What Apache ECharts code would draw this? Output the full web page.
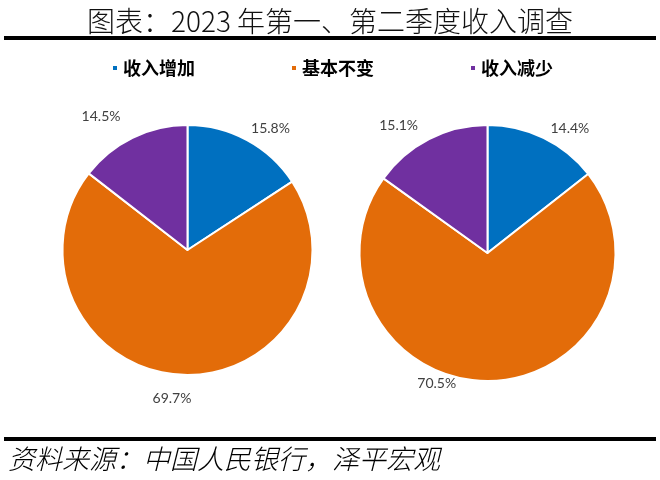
<!DOCTYPE html>
<html>
<head>
<meta charset="utf-8">
<script src="https://cdn.jsdelivr.net/npm/echarts@6/dist/echarts.min.js"></script>
<style>html,body{margin:0;padding:0;background:#fff}#c{width:660px;height:480px}</style>
</head>
<body>
<div id="c"></div>
<script>
const categories = ['收入增加', '基本不变', '收入减少'];
const q1Values = [15.8, 69.7, 14.5];
const q2Values = [14.4, 70.5, 15.1];
const titleText = '图表：2023 年第一、第二季度收入调查';
const sourceText = '资料来源：中国人民银行，泽平宏观';

const colors = ['#0070C0', '#E36C09', '#7030A0'];
const q1LabelShift = [[-1, -12], [14, 24], [-7, -21]];
const q2LabelShift = [[2, -9], [-78, 3], [-6, -14]];

function pieSeries(name, values, center, radius, shifts) {
  return {
    type: 'pie',
    name: name,
    center: center,
    radius: radius,
    startAngle: 90,
    clockwise: true,
    avoidLabelOverlap: false,
    animation: false,
    data: categories.map((c, i) => ({ name: c, value: values[i] })),
    itemStyle: { borderColor: '#ffffff', borderWidth: 2 },
    label: {
      show: true,
      position: 'outside',
      formatter: p => p.value.toFixed(1) + '%',
      fontFamily: 'Lato',
      fontSize: 14,
      color: '#404040',
      distanceToLabelLine: 5
    },
    labelLine: { show: false, length: 0, length2: 0 },
    labelLayout: p => ({ dx: shifts[p.dataIndex][0], dy: shifts[p.dataIndex][1] }),
    emphasis: { disabled: true }
  };
}

const chart = echarts.init(document.getElementById('c'), null, { renderer: 'canvas' });
chart.setOption({
  animation: false,
  color: colors,
  title: {
    text: titleText,
    left: 'center',
    top: 2,
    textStyle: { fontFamily: 'Noto Sans CJK SC', fontWeight: 300, fontSize: 28, color: '#111' }
  },
  legend: {
    data: categories,
    left: 111,
    top: 59,
    padding: 0,
    icon: 'rect',
    itemWidth: 6,
    itemHeight: 6,
    itemGap: 95,
    textStyle: { fontFamily: 'Noto Sans CJK SC', fontWeight: 'bold', fontSize: 18, color: '#000' }
  },
  graphic: [
    { type: 'rect', shape: { x: 4, y: 36, width: 652, height: 4 }, style: { fill: '#000' } },
    { type: 'rect', shape: { x: 4, y: 437, width: 652, height: 4 }, style: { fill: '#000' } },
    { type: 'text', left: 8, top: 445, style: { text: sourceText, font: 'italic 300 27px "Noto Sans CJK SC"', fill: '#000' } }
  ],
  series: [
    pieSeries('2023Q1', q1Values, [187.5, 250], 125, q1LabelShift),
    pieSeries('2023Q2', q2Values, [487.5, 253], 128, q2LabelShift)
  ]
});
</script>
</body>
</html>
